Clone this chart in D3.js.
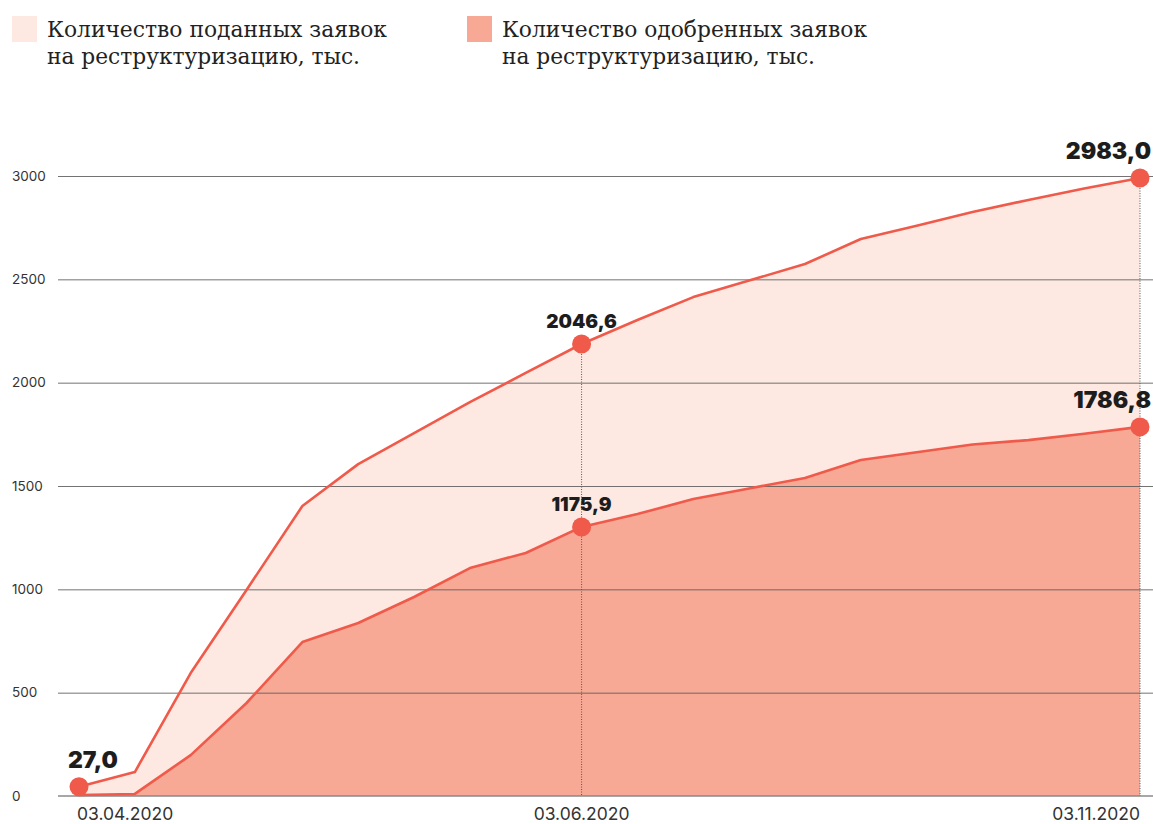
<!DOCTYPE html>
<html>
<head>
<meta charset="utf-8">
<script src="https://cdn.jsdelivr.net/npm/d3@7"></script>
<style>
    body { margin: 0; background: #fff; }
    svg { display: block; }
    .grid line { stroke: #5a5a5a; stroke-width: 1; }
    .grid .domain { display: none; }
    .ylab text, .xlab text { fill: #333; font-family: Inter, Roboto, sans-serif; }
</style>
</head>
<body>
<svg id="chart" width="1153" height="824"></svg>
<script>
// data (thousands)
var steps = d3.range(20);
var submitted = [45, 116, 595, 997, 1403, 1606, 1756, 1906, 2047, 2187,
    2303, 2414, 2494, 2574, 2695, 2759, 2826, 2884, 2940, 2990];
var approved = [5, 10, 198, 450, 745, 837, 963, 1103, 1176, 1302,
    1364, 1437, 1488, 1539, 1626, 1663, 1701, 1722, 1753, 1786];
var dateTicks = [0, 9, 19];
var dateLabels = ["03.04.2020", "03.06.2020", "03.11.2020"];
var yTicks = [0, 500, 1000, 1500, 2000, 2500, 3000];
var legendLabels = [
    ["Количество поданных заявок", "на реструктуризацию, тыс."],
    ["Количество одобренных заявок", "на реструктуризацию, тыс."]
];
// callouts: step index, series, text
var callouts = [
    { i: 0, s: "submitted", text: "27,0" },
    { i: 9, s: "submitted", text: "2046,6" },
    { i: 9, s: "approved", text: "1175,9" },
    { i: 19, s: "submitted", text: "2983,0" },
    { i: 19, s: "approved", text: "1786,8" }
];

var lineColor = "#ef5a4a";
var fillLight = "#fde9e1";
var fillDark = "#f7a995";

var svg = d3.select("#chart");
var gridLeft = 58, gridRight = 1153;

var x = d3.scalePoint().domain(steps).range([79, 1140]);
var y = d3.scaleLinear().domain([0, 3000]).range([796, 176]);

var series = { submitted: submitted, approved: approved };

// legend
var legend = svg.append("g").attr("class", "legend");
var legendX = [12, 467];
var legendFill = [fillLight, fillDark];
var legendWidths = [[340, 313], [365, 313]];
legendLabels.forEach(function (lines, k) {
    var g = legend.append("g").attr("transform", "translate(" + legendX[k] + ",0)");
    g.append("rect").attr("x", 0).attr("y", 16).attr("width", 25).attr("height", 26)
        .attr("fill", legendFill[k]);
    lines.forEach(function (t, j) {
        g.append("text")
            .attr("x", 35).attr("y", 37 + j * 27)
            .attr("font-family", "'DejaVu Serif', 'Liberation Serif', serif")
            .attr("font-size", 22)
            .attr("fill", "#222")
            .attr("textLength", legendWidths[k][j])
            .attr("lengthAdjust", "spacingAndGlyphs")
            .text(t);
    });
});

// y labels
var ylab = svg.append("g").attr("class", "ylab");
ylab.selectAll("text").data(yTicks).enter().append("text")
    .attr("x", 12)
    .attr("y", function (d) { return y(d); })
    .attr("dy", "0.35em")
    .attr("font-size", 13.5)
    .text(function (d) { return d; });

// areas
var area = d3.area()
    .x(function (d, i) { return x(i); })
    .y0(y(0))
    .y1(function (d) { return y(d); });

svg.append("path").datum(submitted).attr("d", area).attr("fill", fillLight);
svg.append("path").datum(approved).attr("d", area).attr("fill", fillDark);

// gridlines on top of the areas
svg.append("g").attr("class", "grid")
    .attr("transform", "translate(" + gridLeft + ",0)")
    .call(d3.axisLeft(y).tickValues(yTicks.slice(1)).tickSize(-(gridRight - gridLeft)).tickFormat(""))
    .selectAll(".tick line").attr("stroke-opacity", 0.85);

// baseline
svg.append("line")
    .attr("x1", gridLeft).attr("x2", gridRight)
    .attr("y1", y(0)).attr("y2", y(0))
    .attr("stroke", "#8a8a8a").attr("stroke-width", 1.6);

// dotted drop lines
[9, 19].forEach(function (i) {
    svg.append("line")
        .attr("x1", x(i)).attr("x2", x(i))
        .attr("y1", y(submitted[i])).attr("y2", y(0))
        .attr("stroke", "#555").attr("stroke-width", 1)
        .attr("stroke-dasharray", "1,1.5");
});

// lines
var line = d3.line()
    .x(function (d, i) { return x(i); })
    .y(function (d) { return y(d); });

svg.append("path").datum(submitted).attr("d", line)
    .attr("fill", "none").attr("stroke", lineColor).attr("stroke-width", 2.6)
    .attr("stroke-linejoin", "round");
svg.append("path").datum(approved).attr("d", line)
    .attr("fill", "none").attr("stroke", lineColor).attr("stroke-width", 2.6)
    .attr("stroke-linejoin", "round");

// x labels
var xlab = svg.append("g").attr("class", "xlab");
dateTicks.forEach(function (i, k) {
    var anchor = k === 0 ? "start" : (k === dateTicks.length - 1 ? "end" : "middle");
    var xx = k === 0 ? x(i) - 2 : x(i);
    xlab.append("text")
        .attr("x", xx).attr("y", 820)
        .attr("text-anchor", anchor)
        .attr("font-size", 17.5)
        .text(dateLabels[k]);
});

// callout dots and labels
callouts.forEach(function (c) {
    var v = series[c.s][c.i];
    var cx = x(c.i), cy = y(v);
    svg.append("circle").attr("cx", cx).attr("cy", cy).attr("r", 9.5).attr("fill", lineColor);
    var big = c.i !== 9;
    var anchor = c.i === 0 ? "start" : (c.i === 19 ? "end" : "middle");
    var tx = c.i === 0 ? cx - 11 : (c.i === 19 ? 1151 : cx);
    svg.append("text")
        .attr("x", tx).attr("y", cy - (big ? 19 : 16))
        .attr("text-anchor", anchor)
        .attr("font-family", "Inter, Roboto, sans-serif")
        .attr("font-weight", 900)
        .attr("font-size", big ? 23 : 19)
        .attr("fill", "#1d1d1d")
        .text(c.text);
});
</script>
</body>
</html>
